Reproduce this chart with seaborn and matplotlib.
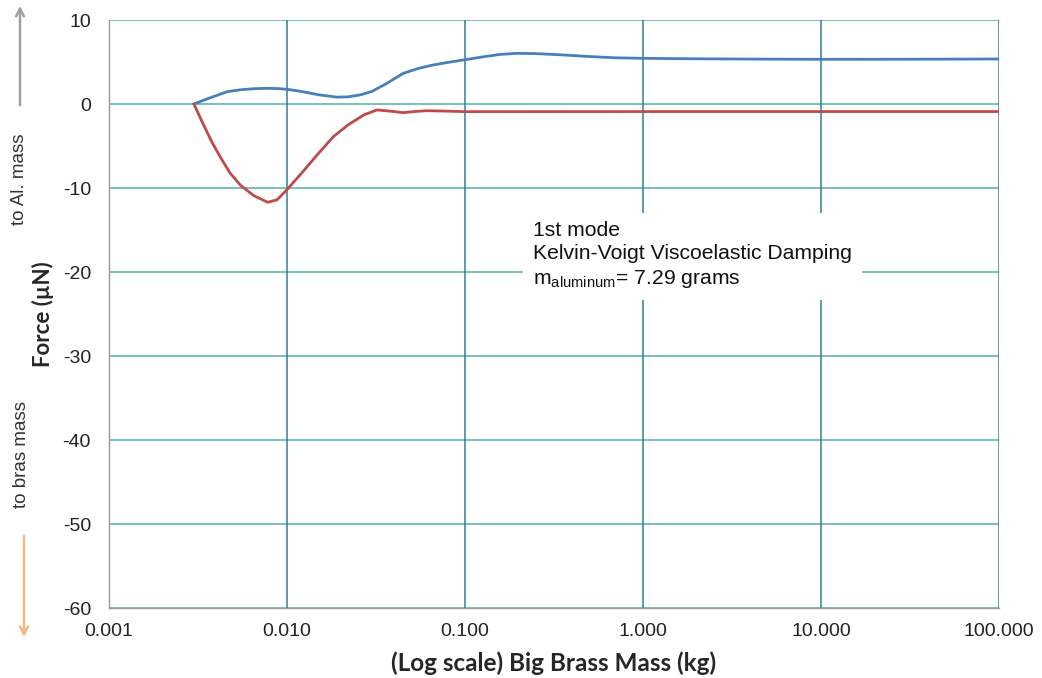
import pandas as pd
import seaborn as sns
import matplotlib.pyplot as plt
from matplotlib.ticker import FixedLocator, FixedFormatter, NullLocator

# Force vs. big brass mass, first mode (blue: toward aluminum, red: toward brass)
blue_mass = [0.003, 0.0035, 0.004, 0.0046, 0.0055, 0.0065, 0.0077, 0.009,
             0.010, 0.012, 0.015, 0.019, 0.022, 0.026, 0.030, 0.036, 0.045,
             0.055, 0.066, 0.080, 0.098, 0.125, 0.157, 0.195, 0.25, 0.35,
             0.5, 0.7, 1.0, 2.0, 5.0, 10.0, 30.0, 100.0]
blue_force = [0.0, 0.55, 1.0, 1.46, 1.7, 1.82, 1.87, 1.83,
              1.75, 1.5, 1.1, 0.82, 0.85, 1.1, 1.5, 2.4, 3.65,
              4.25, 4.64, 4.95, 5.24, 5.6, 5.9, 6.03, 6.0, 5.85,
              5.65, 5.5, 5.44, 5.38, 5.34, 5.32, 5.33, 5.36]

red_mass = [0.003, 0.0034, 0.0038, 0.0043, 0.0048, 0.0055, 0.0065, 0.0078,
            0.0088, 0.010, 0.012, 0.015, 0.0182, 0.022, 0.027, 0.032, 0.038,
            0.045, 0.052, 0.061, 0.080, 0.10, 1.0, 10.0, 100.0]
red_force = [0.0, -2.5, -4.6, -6.6, -8.25, -9.7, -10.9, -11.7,
             -11.4, -10.2, -8.3, -5.9, -3.9, -2.5, -1.3, -0.71, -0.85,
             -1.03, -0.9, -0.8, -0.85, -0.91, -0.9, -0.9, -0.9]

x_ticks = [0.001, 0.01, 0.1, 1, 10, 100]
x_tick_labels = ["0.001", "0.010", "0.100", "1.000", "10.000", "100.000"]
y_ticks = [10, 0, -10, -20, -30, -40, -50, -60]

blue_df = pd.DataFrame({"mass": blue_mass, "force": blue_force})
red_df = pd.DataFrame({"mass": red_mass, "force": red_force})

sns.set_theme(style="white")
plt.rcParams["font.family"] = ["Liberation Sans", "DejaVu Sans"]
plt.rcParams["axes.unicode_minus"] = False

fig = plt.figure(figsize=(10.42, 6.78), dpi=100)
ax = fig.add_axes([0.1046, 0.1032, 0.8541, 0.8673])

sns.lineplot(data=blue_df, x="mass", y="force", ax=ax, color="#4a7ebb",
             linewidth=2.0, sort=False)
sns.lineplot(data=red_df, x="mass", y="force", ax=ax, color="#be4b48",
             linewidth=2.0, sort=False)

ax.set_xscale("log")
ax.set_xlim(0.001, 100)
ax.set_ylim(-60, 10)

ax.xaxis.set_major_locator(FixedLocator(x_ticks))
ax.xaxis.set_major_formatter(FixedFormatter(x_tick_labels))
ax.xaxis.set_minor_locator(NullLocator())
ax.yaxis.set_major_locator(FixedLocator(y_ticks))

# gridlines: horizontal teal, vertical darker blue-teal
for yv in y_ticks:
    ax.axhline(yv, color="#52b2a6", linewidth=1.1, zorder=0.5)
for xv in x_ticks:
    ax.axvline(xv, color="#2f7f96", linewidth=1.1, zorder=0.5)

for side in ("top", "right"):
    ax.spines[side].set_visible(False)
for side in ("left", "bottom"):
    ax.spines[side].set_color("#9a9a9a")
    ax.spines[side].set_linewidth(1.0)

ax.tick_params(axis="y", which="major", direction="out", length=8, width=1.0,
               color="#52b2a6", labelsize=14, labelcolor="#222222", pad=5)
ax.tick_params(axis="x", which="major", direction="out", length=7, width=1.0,
               color="#9a9a9a", labelsize=14, labelcolor="#222222", pad=4)

ax.set_xlabel("(Log scale) Big Brass Mass (kg)", fontsize=17.5, fontweight="bold",
              family=["Lato", "DejaVu Sans"], labelpad=8)
ax.set_ylabel("Force (µN)", fontsize=16, fontweight="bold",
              family=["Lato", "DejaVu Sans"], labelpad=6)

ax.text(0.241, -13.9,
        "1st mode\nKelvin-Voigt Viscoelastic Damping\n"
        r"m$_{\mathregular{aluminum}}$= 7.29 grams",
        fontsize=15.2, color="#111111", va="top", ha="left",
        bbox=dict(facecolor="white", edgecolor="none", pad=7), zorder=3,
        linespacing=1.3)

# direction cues beside the y-axis
fig.text(20 / 1042, 1 - 179 / 678, "to Al. mass", rotation=90, fontsize=13.5,
         ha="center", va="center", color="#333333")
fig.text(22 / 1042, 1 - 455 / 678, "to bras mass", rotation=90, fontsize=13.5,
         ha="center", va="center", color="#333333")
fig.add_artist(plt.Annotation("", xy=(20 / 1042, 1 - 3 / 678),
                              xytext=(20 / 1042, 1 - 108 / 678),
                              xycoords="figure fraction",
                              arrowprops=dict(arrowstyle="->", color="#a0a0a0",
                                              lw=1.8, mutation_scale=14)))
fig.add_artist(plt.Annotation("", xy=(24 / 1042, 1 - 640 / 678),
                              xytext=(24 / 1042, 1 - 533 / 678),
                              xycoords="figure fraction",
                              arrowprops=dict(arrowstyle="->", color="#f3b985",
                                              lw=1.8, mutation_scale=14)))

fig.savefig("out.png", dpi=100, facecolor="white")
